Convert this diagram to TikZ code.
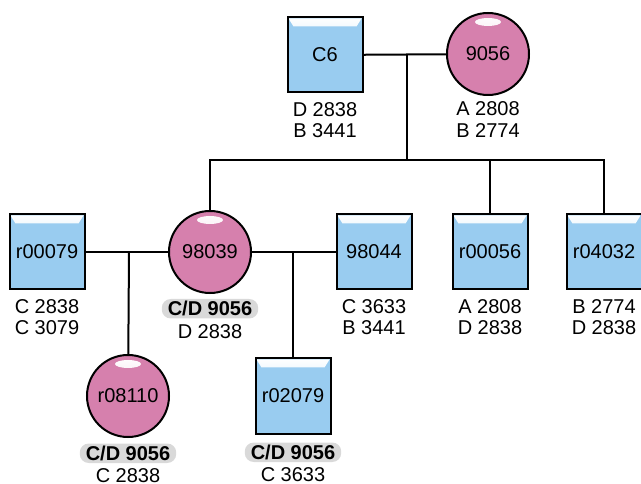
\documentclass[tikz,border=0pt]{standalone}
\usepackage{fontspec}
\setmainfont{Liberation Sans}
\usetikzlibrary{positioning}

\definecolor{maleblue}{RGB}{153,204,240}
\definecolor{femalepink}{RGB}{214,128,173}
\definecolor{taggray}{RGB}{217,217,217}

\begin{document}
\begin{tikzpicture}[x=1pt, y=-1pt, line width=2pt,
  male/.style={rectangle, draw, fill=maleblue, minimum size=75pt, inner sep=0pt,
    font=\fontsize{20}{22}\selectfont,
    path picture={\shade[top color=white, bottom color=maleblue]
      ([xshift=1pt,yshift=-1pt]path picture bounding box.north west) --
      ([xshift=-1pt,yshift=-1pt]path picture bounding box.north east) --
      ([xshift=-6pt,yshift=-9pt]path picture bounding box.north east) --
      ([xshift=6pt,yshift=-9pt]path picture bounding box.north west) -- cycle;}},
  female/.style={circle, draw, fill=femalepink, minimum size=82pt, inner sep=0pt,
    font=\fontsize{20}{22}\selectfont,
    path picture={\shade[top color=white, bottom color=femalepink!55!white]
      ([yshift=-9pt]path picture bounding box.north) ellipse [x radius=13pt, y radius=4pt];}},
  info/.style={inner sep=0pt, align=center, font=\fontsize{20}{21.5}\selectfont},
  tag/.style={fill=taggray, rounded corners=9pt, inner xsep=6pt, inner ysep=2.5pt,
    text height=14pt, text depth=0.5pt, font=\fontsize{20}{22}\selectfont\bfseries}]
  \useasboundingbox (0,0) rectangle (641,484);
  % generation I
  \node[male]   (c6)    at (325,55)  {C6};
  \node[female] (f9056) at (488,54)  {9056};
  % generation II
  \node[male]   (r00079) at (47,252)  {r00079};
  \node[female] (p98039) at (210,252) {98039};
  \node[male]   (p98044) at (374,252) {98044};
  \node[male]   (r00056) at (490,252) {r00056};
  \node[male]   (r04032) at (604,252) {r04032};
  % generation III
  \node[female] (r08110) at (128,396) {r08110};
  \node[male]   (r02079) at (293,396) {r02079};
  % marriages and descent
  \coordinate (u1)  at (407,55);
  \coordinate (sib) at (407,160);
  \coordinate (u2)  at (129,252);
  \coordinate (u3)  at (293,252);
  \draw (c6) -- (f9056);
  \draw (u1) -- (sib);
  \draw (p98039) |- (sib) -| (r04032);
  \draw (r00056 |- sib) -- (r00056);
  \draw (r00079) -- (p98039);
  \draw (p98039) -- (p98044);
  \draw (u2) -- (r08110);
  \draw (u3) -- (r02079);
  % genotypes
  \node[info, below=8pt of c6]     {D 2838\\B 3441};
  \node[info, below=5pt of f9056]  {A 2808\\B 2774};
  \node[info, below=8pt of r00079] {C 2838\\C 3079};
  \node[tag,  below=4pt of p98039] (t98039) {C/D 9056};
  \node[info, below=4.5pt of t98039] {D 2838};
  \node[info, below=8pt of p98044] {C 3633\\B 3441};
  \node[info, below=8pt of r00056] {A 2808\\D 2838};
  \node[info, below=8pt of r04032] {B 2774\\D 2838};
  \node[tag,  below=4.5pt of r08110] (t08110) {C/D 9056};
  \node[info, below=3.5pt of t08110] {C 2838};
  \node[tag,  below=7pt of r02079] (t02079) {C/D 9056};
  \node[info, below=3.5pt of t02079] {C 3633};
\end{tikzpicture}
\end{document}
